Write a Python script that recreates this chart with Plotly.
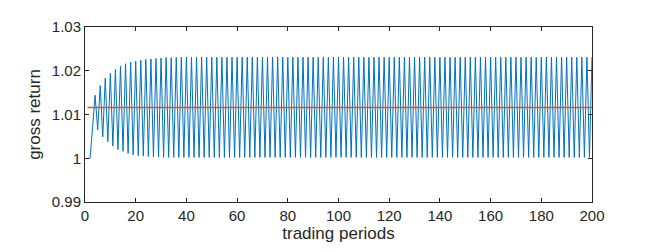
import plotly.graph_objects as go

# trading periods 1..200
periods = list(range(1, 201))

# gross return (blue): transient, then a steady 2-cycle
gross_transient = [
    1.0000, 1.0000, 1.0072, 1.0144, 1.0065, 1.0166, 1.0049, 1.0183, 1.0038, 1.0194,
    1.0028, 1.0203, 1.0020, 1.0211, 1.0016, 1.0216, 1.0011, 1.0220, 1.0008, 1.0222,
    1.0006, 1.0224, 1.0005, 1.0226, 1.0004, 1.0227, 1.0003, 1.0228, 1.0003, 1.0229,
    1.0002, 1.0230, 1.0002, 1.0230, 1.0002, 1.0231,
]
gross_steady = [
    1.0002, 1.0231, 1.0002, 1.0231, 1.0002, 1.0231, 1.0002, 1.0231, 1.0002, 1.0231,
    1.0002, 1.0231, 1.0002, 1.0231, 1.0002, 1.0231, 1.0002, 1.0231, 1.0002, 1.0231,
    1.0002, 1.0231, 1.0002, 1.0231, 1.0002, 1.0231, 1.0002, 1.0231, 1.0002, 1.0231,
    1.0002, 1.0231, 1.0002, 1.0231, 1.0002, 1.0231, 1.0002, 1.0231, 1.0002, 1.0231,
    1.0002, 1.0231, 1.0002, 1.0231, 1.0002, 1.0231, 1.0002, 1.0231, 1.0002, 1.0231,
    1.0002, 1.0231, 1.0002, 1.0231, 1.0002, 1.0231, 1.0002, 1.0231, 1.0002, 1.0231,
    1.0002, 1.0231, 1.0002, 1.0231, 1.0002, 1.0231, 1.0002, 1.0231, 1.0002, 1.0231,
    1.0002, 1.0231, 1.0002, 1.0231, 1.0002, 1.0231, 1.0002, 1.0231, 1.0002, 1.0231,
    1.0002, 1.0231, 1.0002, 1.0231, 1.0002, 1.0231, 1.0002, 1.0231, 1.0002, 1.0231,
    1.0002, 1.0231, 1.0002, 1.0231, 1.0002, 1.0231, 1.0002, 1.0231, 1.0002, 1.0231,
    1.0002, 1.0231, 1.0002, 1.0231, 1.0002, 1.0231, 1.0002, 1.0231, 1.0002, 1.0231,
    1.0002, 1.0231, 1.0002, 1.0231, 1.0002, 1.0231, 1.0002, 1.0231, 1.0002, 1.0231,
    1.0002, 1.0231, 1.0002, 1.0231, 1.0002, 1.0231, 1.0002, 1.0231, 1.0002, 1.0231,
    1.0002, 1.0231, 1.0002, 1.0231, 1.0002, 1.0231, 1.0002, 1.0231, 1.0002, 1.0231,
    1.0002, 1.0231, 1.0002, 1.0231, 1.0002, 1.0231, 1.0002, 1.0231, 1.0002, 1.0231,
    1.0002, 1.0231, 1.0002, 1.0231, 1.0002, 1.0231, 1.0002, 1.0231, 1.0002, 1.0231,
    1.0002, 1.0231, 1.0002, 1.0231,
]
gross_return = (gross_transient + gross_steady)[:len(periods)]

# mean level (red)
mean_return = [1.0116] * len(periods)

x_ticks = [0, 20, 40, 60, 80, 100, 120, 140, 160, 180, 200]
y_ticks = [0.99, 1.0, 1.01, 1.02, 1.03]
y_tick_labels = ["0.99", "1", "1.01", "1.02", "1.03"]

fig = go.Figure()
fig.add_trace(go.Scatter(x=periods[:len(gross_return)], y=gross_return, mode="lines",
                         line=dict(color="#0072BD", width=1.0), showlegend=False))
fig.add_trace(go.Scatter(x=periods, y=mean_return, mode="lines",
                         line=dict(color="#D95319", width=1.6), showlegend=False))

axis_common = dict(
    showline=True, linecolor="#262626", linewidth=1, mirror="ticks",
    ticks="inside", ticklen=4, tickcolor="#262626", tickwidth=1,
    showgrid=False, zeroline=False,
    tickfont=dict(family="Liberation Sans, Arial, sans-serif", size=15, color="#262626"),
)

fig.update_layout(
    width=654, height=252,
    margin=dict(l=77, r=70, t=10, b=58),
    paper_bgcolor="white", plot_bgcolor="white",
    font=dict(family="Liberation Sans, Arial, sans-serif", size=15, color="#262626"),
    xaxis=dict(range=[0, 200], tickvals=x_ticks,
               title=dict(text="trading periods", standoff=2,
                          font=dict(size=17, color="#262626")),
               **axis_common),
    yaxis=dict(range=[0.99, 1.03], tickvals=y_ticks, ticktext=y_tick_labels,
               title=dict(text="gross return", standoff=6,
                          font=dict(size=17, color="#262626")),
               **axis_common),
)

fig.write_html("out.html")
